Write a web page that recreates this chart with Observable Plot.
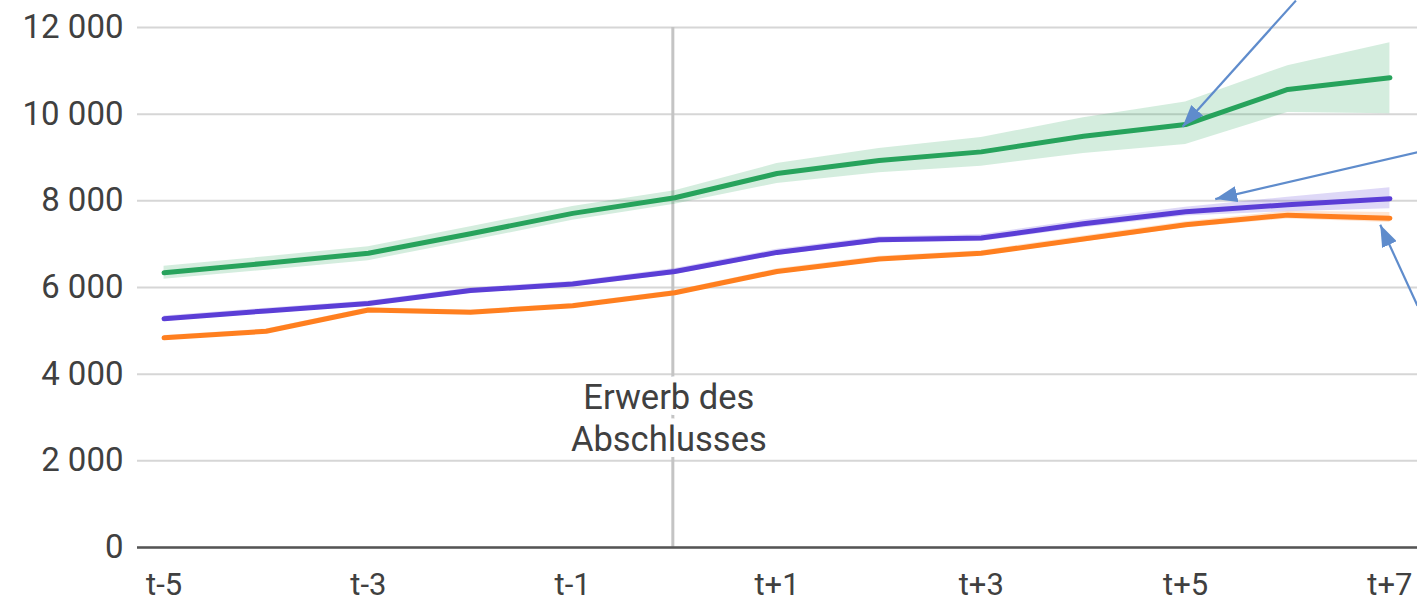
<!DOCTYPE html>
<html>
<head>
<meta charset="utf-8">
<script src="https://cdn.jsdelivr.net/npm/d3@7"></script>
<script src="https://cdn.jsdelivr.net/npm/@observablehq/plot@0.6"></script>
<style>
  html, body { margin: 0; padding: 0; background: #fff; }
  #chart { width: 1417px; height: 602px; overflow: hidden; }
</style>
</head>
<body>
<div id="chart"></div>
<script>
// Periods relative to the year of graduation (t)
const periodIndex = [-5, -4, -3, -2, -1, 0, 1, 2, 3, 4, 5, 6, 7];
const periodLabels = ["t-5", "t-4", "t-3", "t-2", "t-1", "t", "t+1", "t+2", "t+3", "t+4", "t+5", "t+6", "t+7"];

// Series: green
const greenValues = [6340, 6560, 6790, 7240, 7710, 8070, 8630, 8930, 9130, 9490, 9760, 10570, 10840];
const greenLow    = [6190, 6400, 6620, 7080, 7550, 7920, 8400, 8650, 8800, 9090, 9300, 10040, 10010];
const greenHigh   = [6490, 6710, 6940, 7400, 7870, 8230, 8860, 9210, 9460, 9920, 10280, 11120, 11650];

// Series: purple
const purpleValues = [5280, 5460, 5630, 5930, 6080, 6370, 6810, 7100, 7140, 7470, 7750, 7910, 8050];
const purpleLow    = [5220, 5400, 5570, 5870, 6020, 6300, 6740, 7030, 7060, 7380, 7650, 7750, 7820];
const purpleHigh   = [5340, 5520, 5690, 5990, 6140, 6440, 6880, 7170, 7220, 7560, 7850, 8080, 8300];

// Series: orange
const orangeValues = [4840, 4990, 5480, 5430, 5580, 5880, 6370, 6660, 6790, 7120, 7450, 7670, 7600];
const orangeLow    = [4790, 4940, 5430, 5380, 5530, 5830, 6310, 6600, 6730, 7050, 7380, 7580, 7500];
const orangeHigh   = [4890, 5040, 5530, 5480, 5630, 5930, 6430, 6720, 6850, 7190, 7520, 7760, 7730];

const seriesNames  = ["green", "purple", "orange"];
const seriesColors = ["#27a35c", "#5b3ed6", "#ff7f1f"];

// Axis ticks
const xTickIndex = [-5, -3, -1, 1, 3, 5, 7];
const xTickLabels = ["t-5", "t-3", "t-1", "t+1", "t+3", "t+5", "t+7"];
const yTicks = [0, 2000, 4000, 6000, 8000, 10000, 12000];

// Event marker
const eventIndex = [0];
const eventLabel = ["Erwerb des\nAbschlusses"];
const eventLabelY = [3030];

// Annotation arrows (data units: period index, value)
const arrowStartX = [6.08, 7.27, 7.27];
const arrowStartY = [12620, 9120, 5580];
const arrowEndX   = [4.97, 5.29, 6.905];
const arrowEndY   = [9710, 8040, 7450];

// Build tidy table
const valuesBySeries = {green: greenValues, purple: purpleValues, orange: orangeValues};
const lowBySeries = {green: greenLow, purple: purpleLow, orange: orangeLow};
const highBySeries = {green: greenHigh, purple: purpleHigh, orange: orangeHigh};
const rows = [];
for (const s of seriesNames) {
  periodIndex.forEach((p, i) => rows.push({
    series: s, x: p, label: periodLabels[i],
    value: valuesBySeries[s][i], lo: lowBySeries[s][i], hi: highBySeries[s][i]
  }));
}
const arrows = arrowStartX.map((d, i) => ({x1: d, y1: arrowStartY[i], x2: arrowEndX[i], y2: arrowEndY[i]}));

const colorOf = s => seriesColors[seriesNames.indexOf(s)];
const fmt = d => d3.format(",")(d).replace(/,/g, " ");

function triangleMarker(color, context) {
  const doc = context.document;
  const ns = "http://www.w3.org/2000/svg";
  const m = doc.createElementNS(ns, "marker");
  m.setAttribute("viewBox", "-22 -8 23 16");
  m.setAttribute("refX", "0");
  m.setAttribute("refY", "0");
  m.setAttribute("markerWidth", "23");
  m.setAttribute("markerHeight", "16");
  m.setAttribute("markerUnits", "userSpaceOnUse");
  m.setAttribute("orient", "auto");
  const p = doc.createElementNS(ns, "path");
  p.setAttribute("d", "M-22,-8L0,0L-22,8Z");
  p.setAttribute("fill", color);
  p.setAttribute("stroke", "none");
  m.appendChild(p);
  return m;
}

const chart = Plot.plot({
  width: 1417,
  height: 602,
  marginLeft: 137,
  marginRight: 0,
  marginTop: 27,
  marginBottom: 55,
  style: {fontFamily: "Roboto, 'Noto Sans', sans-serif", color: "#404040", background: "#fff", overflow: "visible"},
  x: {domain: [-5.26, 7.27]},
  y: {domain: [0, 12000]},
  marks: [
    Plot.gridY(yTicks, {stroke: "#d6d6d6", strokeOpacity: 1, strokeWidth: 2}),
    Plot.ruleX(eventIndex, {y1: 0, y2: 12000, stroke: "#c4c4c4", strokeWidth: 3, dx: -2}),
    Plot.areaY(rows, {x: "x", y1: "lo", y2: "hi", z: "series", fill: d => colorOf(d.series), fillOpacity: 0.2}),
    Plot.lineY(rows, {x: "x", y: "value", z: "series", stroke: d => colorOf(d.series), strokeWidth: 5, strokeLinecap: "round", strokeLinejoin: "round"}),
    Plot.ruleY([0], {stroke: "#555", strokeWidth: 2.5}),
    Plot.axisY(yTicks, {tickSize: 0, tickPadding: 14, fontSize: 33, tickFormat: fmt, fill: "#404040"}),
    Plot.axisX(xTickIndex, {tickSize: 0, tickPadding: 25, fontSize: 31, tickFormat: d => xTickLabels[xTickIndex.indexOf(d)], fill: "#404040"}),
    Plot.text(eventLabel, {x: eventIndex, y: eventLabelY, text: d => d, fontSize: 34.5, lineHeight: 1.22, dx: -6, fill: "#404040", stroke: "white", strokeWidth: 12}),
    Plot.link(arrows, {x1: "x1", y1: "y1", x2: "x2", y2: "y2", stroke: "#5f8ccc", strokeWidth: 2.2, markerEnd: triangleMarker, clip: false})
  ]
});
document.getElementById("chart").appendChild(chart);
</script>
</body>
</html>
